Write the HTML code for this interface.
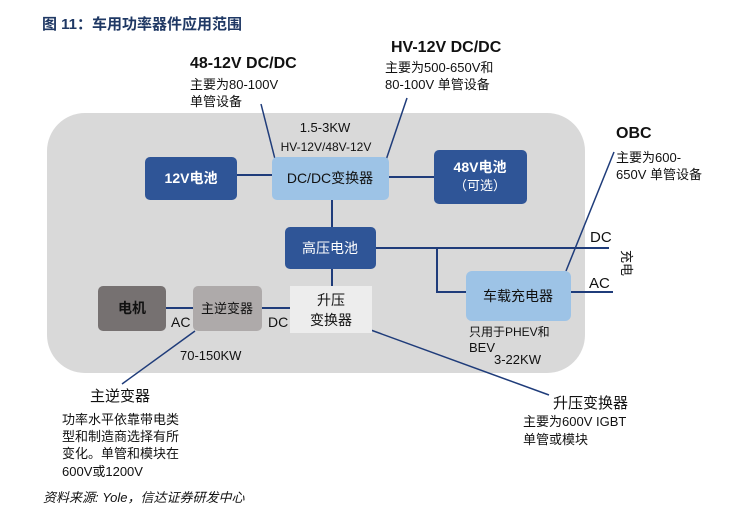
<!DOCTYPE html>
<html><head><meta charset="utf-8"><style>
html,body{margin:0;padding:0;background:#fff}
svg text{font-family:"Liberation Sans","Noto Sans CJK SC",sans-serif}
</style></head><body>
<svg width="745" height="524" viewBox="0 0 745 524" xmlns="http://www.w3.org/2000/svg">
<text x="42" y="29" font-size="15" font-weight="bold" fill="#1f3864">图  11：车用功率器件应用范围</text>
<rect x="47" y="113" width="538" height="260" rx="38" fill="#d9d9d9"/>
<g stroke="#1f3c7a" stroke-width="2" fill="none">
<line x1="237" y1="175" x2="272" y2="175"/>
<line x1="389" y1="177" x2="434" y2="177"/>
<line x1="332" y1="200" x2="332" y2="288"/>
<line x1="376" y1="248" x2="609" y2="248"/>
<polyline points="437,248 437,292 466,292"/>
<line x1="571" y1="292" x2="613" y2="292"/>
<line x1="166" y1="308" x2="290" y2="308"/>
<line x1="261" y1="104" x2="276" y2="163" stroke-width="1.5"/>
<line x1="407" y1="98" x2="385" y2="163" stroke-width="1.5"/>
<line x1="614" y1="152" x2="566" y2="271" stroke-width="1.5"/>
<line x1="195" y1="331" x2="122" y2="384" stroke-width="1.5"/>
<line x1="368" y1="329" x2="549" y2="395" stroke-width="1.5"/>
</g>
<rect x="145" y="157" width="92" height="43" rx="5" fill="#2f5597"/>
<text x="191" y="183" font-size="14" font-weight="bold" fill="#fff" text-anchor="middle">12V电池</text>
<rect x="272" y="157" width="117" height="43" rx="5" fill="#9dc3e6"/>
<text x="330" y="183" font-size="14" fill="#111" text-anchor="middle">DC/DC变换器</text>
<rect x="434" y="150" width="93" height="54" rx="5" fill="#2f5597"/>
<text x="480" y="172" font-size="14" font-weight="bold" fill="#fff" text-anchor="middle">48V电池</text>
<text x="480" y="190" font-size="13" fill="#fff" text-anchor="middle">（可选）</text>
<rect x="285" y="227" width="91" height="42" rx="5" fill="#2f5597"/>
<text x="330" y="253" font-size="14" fill="#fff" text-anchor="middle">高压电池</text>
<rect x="466" y="271" width="105" height="50" rx="6" fill="#9dc3e6"/>
<text x="518" y="301" font-size="14" fill="#111" text-anchor="middle">车载充电器</text>
<rect x="98" y="286" width="68" height="45" rx="5" fill="#767171"/>
<text x="132" y="313" font-size="14" font-weight="bold" fill="#111" text-anchor="middle">电机</text>
<rect x="193" y="286" width="69" height="45" rx="5" fill="#aeaaaa"/>
<text x="227" y="313" font-size="13" fill="#111" text-anchor="middle">主逆变器</text>
<rect x="290" y="286" width="82" height="47" fill="#ededed"/>
<text x="331" y="305" font-size="14" fill="#111" text-anchor="middle">升压</text>
<text x="331" y="325" font-size="14" fill="#111" text-anchor="middle">变换器</text>
<g font-size="13" fill="#111">
<text x="190" y="68" font-size="16" font-weight="bold">48-12V DC/DC</text>
<text x="190" y="89">主要为80-100V</text>
<text x="190" y="106">单管设备</text>
<text x="391" y="52" font-size="16" font-weight="bold">HV-12V DC/DC</text>
<text x="385" y="72">主要为500-650V和</text>
<text x="385" y="89">80-100V 单管设备</text>
<text x="325" y="132" text-anchor="middle">1.5-3KW</text>
<text x="326" y="151" font-size="12" text-anchor="middle">HV-12V/48V-12V</text>
<text x="616" y="138" font-size="16" font-weight="bold">OBC</text>
<text x="616" y="162">主要为600-</text>
<text x="616" y="179">650V 单管设备</text>
<text x="590" y="242" font-size="15">DC</text>
<text x="589" y="288" font-size="15">AC</text>
<text transform="translate(622,250) rotate(90)" font-size="13">充电</text>
<text x="171" y="327" font-size="14">AC</text>
<text x="268" y="327" font-size="14">DC</text>
<text x="180" y="360">70-150KW</text>
<text x="469" y="336" font-size="12">只用于PHEV和</text>
<text x="469" y="352">BEV</text>
<text x="494" y="364">3-22KW</text>
<text x="90" y="401" font-size="15">主逆变器</text>
<text x="62" y="424">功率水平依靠带电类</text>
<text x="62" y="441">型和制造商选择有所</text>
<text x="62" y="458">变化。单管和模块在</text>
<text x="62" y="476">600V或1200V</text>
<text x="553" y="408" font-size="15">升压变换器</text>
<text x="523" y="426">主要为600V IGBT</text>
<text x="523" y="444">单管或模块</text>
<text x="43" y="502" font-style="italic" font-size="13">资料来源: Yole，信达证券研发中心</text>
</g>
</svg>
</body></html>
